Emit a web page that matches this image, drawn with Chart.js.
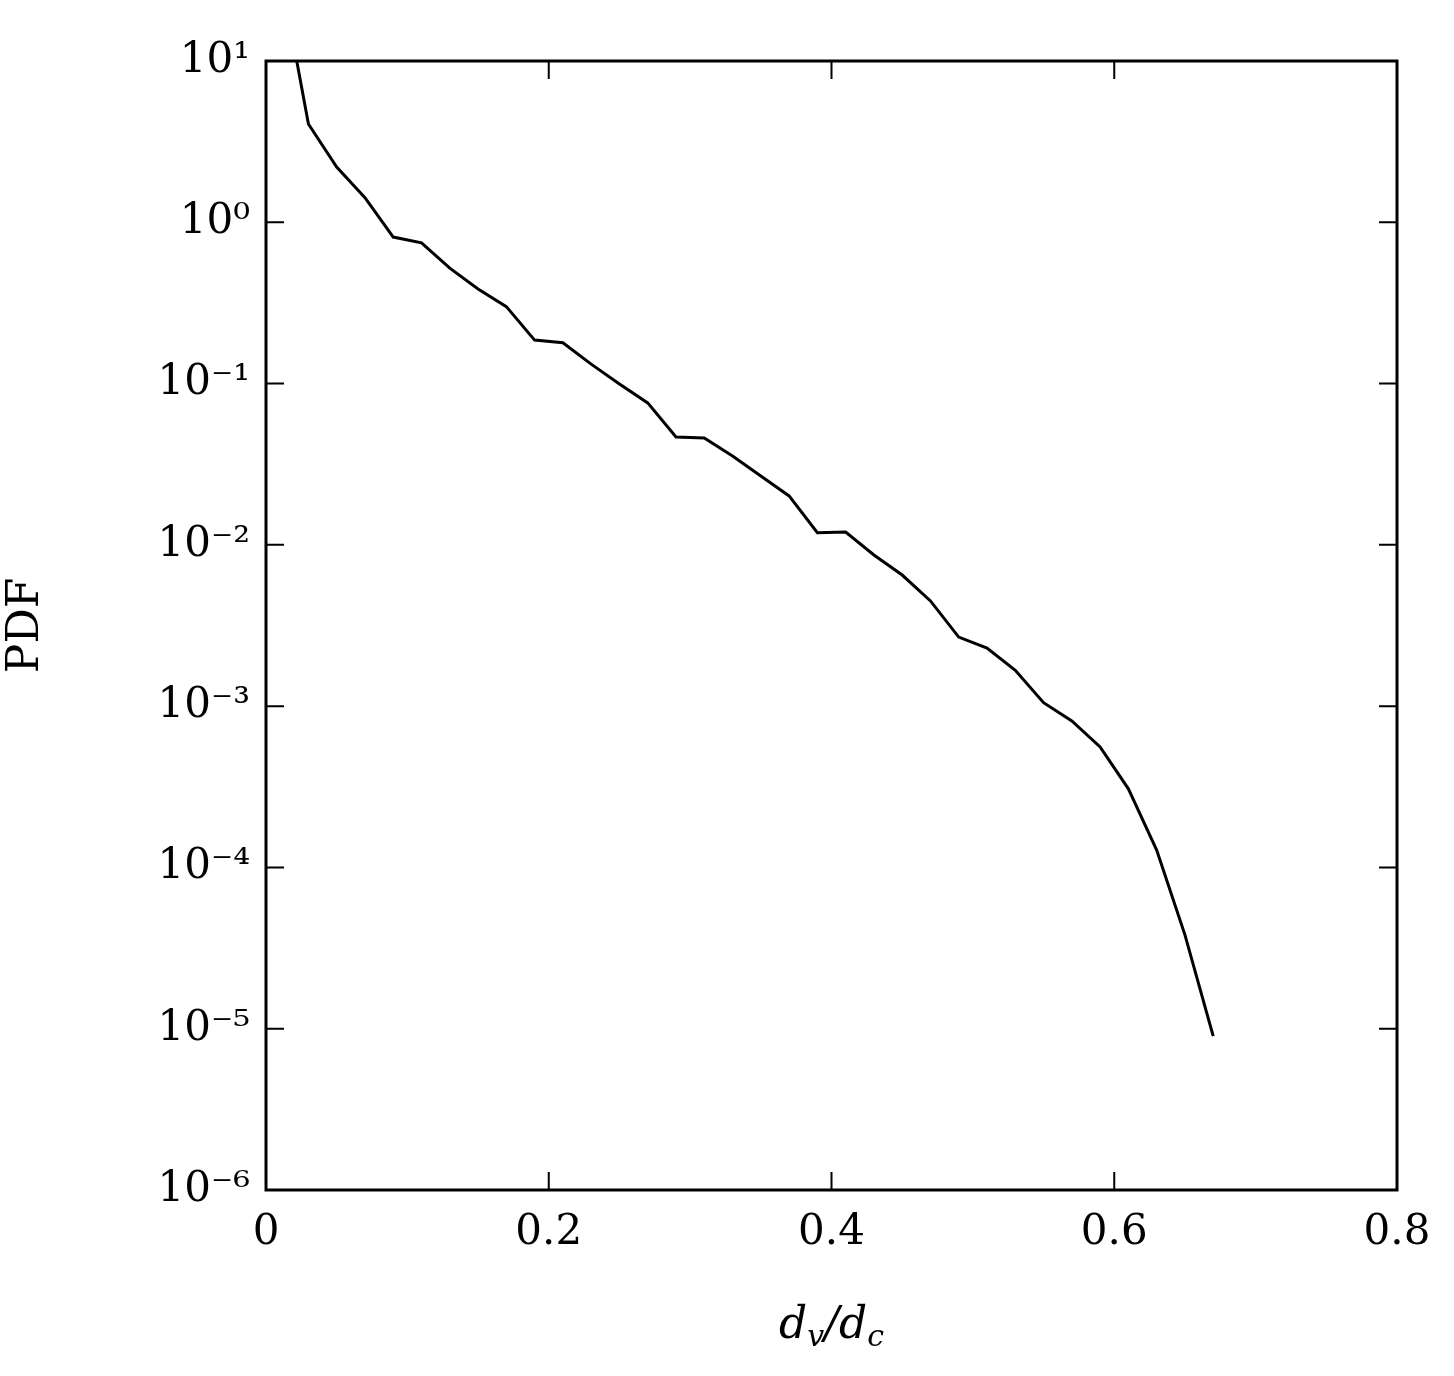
<!DOCTYPE html>
<html><head><meta charset="utf-8">
<script src="https://cdn.jsdelivr.net/npm/chart.js@4"></script>
<style>html,body{margin:0;padding:0;background:#fff}#w{width:1454px;height:1376px}</style>
</head><body><div id="w"><canvas id="c"></canvas></div>
<script>
const xValues=[0.01,0.03,0.05,0.07,0.09,0.11,0.13,0.15,0.17,0.19,0.21,0.23,0.25,0.27,0.29,0.31,0.33,0.35,0.37,0.39,0.41,0.43,0.45,0.47,0.49,0.51,0.53,0.55,0.57,0.59,0.61,0.63,0.65,0.67];
const pdfValues=[36,4.07,2.2,1.42,0.81,0.745,0.52,0.386,0.30,0.186,0.179,0.132,0.0995,0.0759,0.0467,0.046,0.0356,0.0267,0.0201,0.0119,0.012,0.00865,0.0065,0.00449,0.00268,0.00229,0.00167,0.00105,0.00081,0.000558,0.000307,0.000128,3.82e-5,9.0e-6];
const yTickExps=[1,0,-1,-2,-3,-4,-5,-6];
const xTickValues=[0,0.2,0.4,0.6,0.8];
const sup={'-':'⁻','0':'⁰','1':'¹','2':'²','3':'³','4':'⁴','5':'⁵','6':'⁶'};
const F='"DejaVu Serif","Liberation Serif",serif';
const frame={id:'frame',afterDraw(ch){
  const {ctx,chartArea:a,scales:{x,y}}=ch;ctx.save();
  ctx.strokeStyle='#000';ctx.lineWidth=3;ctx.strokeRect(a.left,a.top,a.right-a.left,a.bottom-a.top);
  ctx.lineWidth=2;const L=18;
  yTickExps.forEach(e=>{const p=y.getPixelForValue(Math.pow(10,e));ctx.beginPath();ctx.moveTo(a.left,p);ctx.lineTo(a.left+L,p);ctx.moveTo(a.right,p);ctx.lineTo(a.right-L,p);ctx.stroke();});
  xTickValues.forEach(v=>{const p=x.getPixelForValue(v);ctx.beginPath();ctx.moveTo(p,a.bottom);ctx.lineTo(p,a.bottom-L);ctx.moveTo(p,a.top);ctx.lineTo(p,a.top+L);ctx.stroke();});
  // x title
  ctx.fillStyle='#000';ctx.textBaseline='alphabetic';
  const cx=(a.left+a.right)/2, by=1338;
  const parts=[['d','italic 44px '+F,0],['v','italic 30px '+F,8],['/d','italic 44px '+F,0],['c','italic 30px '+F,8]];
  let w=0;parts.forEach(p=>{ctx.font=p[1];w+=ctx.measureText(p[0]).width;});
  let px=cx-w/2;parts.forEach(p=>{ctx.font=p[1];ctx.fillText(p[0],px,by+p[2]);px+=ctx.measureText(p[0]).width;});
  ctx.restore();}};
new Chart(document.getElementById('c'),{
  type:'line',
  data:{datasets:[{data:xValues.map((v,i)=>({x:v,y:pdfValues[i]})),borderColor:'#000',borderWidth:3,pointRadius:0,fill:false,tension:0}]},
  options:{responsive:true,maintainAspectRatio:false,animation:false,
    layout:{padding:{top:61,right:57,left:0,bottom:0}},
    plugins:{legend:{display:false},tooltip:{enabled:false}},
    scales:{
      x:{type:'linear',min:0,max:0.8,grid:{display:false},border:{display:false},
        afterBuildTicks(s){s.ticks=xTickValues.map(v=>({value:v}));},
        afterFit(s){s.height=186;},
        ticks:{color:'#000',font:{family:F,size:42},padding:10,maxRotation:0,callback:v=>v===0?'0':String(v)}},
      y:{type:'logarithmic',min:1e-6,max:10,grid:{display:false},border:{display:false},
        afterBuildTicks(s){s.ticks=yTickExps.map(e=>({value:Math.pow(10,e)}));},
        afterFit(s){s.width=266;},
        ticks:{color:'#000',font:{family:F,size:42},padding:8,
          callback:v=>{const e=Math.round(Math.log10(v));return '10'+String(e).split('').map(c=>sup[c]).join('');}},
        title:{display:true,text:'PDF',color:'#000',font:{family:F,size:44},padding:{top:0,bottom:0}}}
    }},
  plugins:[frame]});
</script></body></html>
